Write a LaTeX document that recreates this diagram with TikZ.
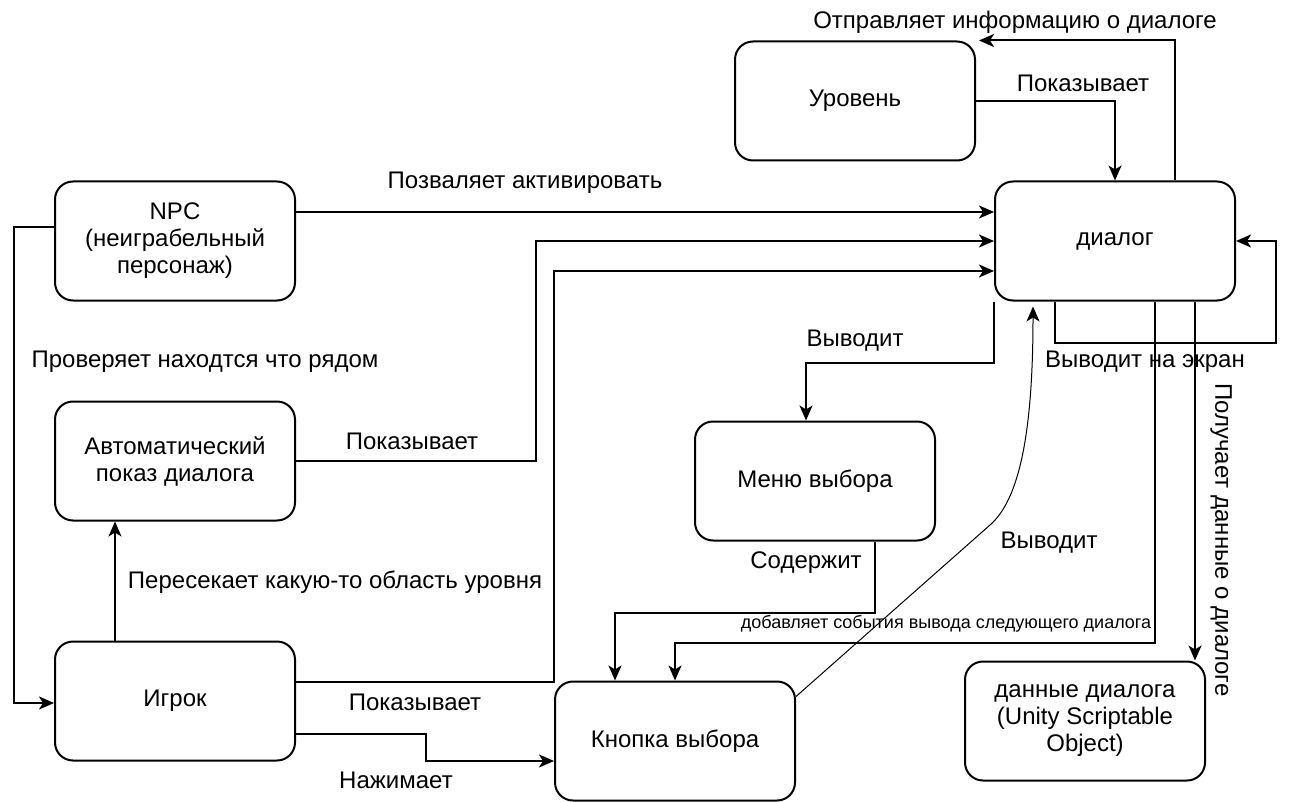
\documentclass[tikz,border=0pt]{standalone}
\usepackage{fontspec}
\setmainfont{Liberation Sans}
\usetikzlibrary{arrows.meta,calc}
\newcommand\diafont{\fontsize{24}{27}\selectfont}
\newcommand\diasmall{\fontsize{18}{21}\selectfont}
\begin{document}
\begin{tikzpicture}[x=1pt,y=-1pt,
  box/.style={draw,line width=2pt,rounded corners=18pt,minimum width=240pt,minimum height=119pt,align=center,font=\diafont,inner sep=0pt},
  arr/.style={line width=2pt,-{Stealth[length=15pt,width=13pt,inset=4pt]}},
  lbl/.style={font=\diafont,inner sep=0pt},
  slbl/.style={font=\diasmall,inner sep=0pt},
]
\fill[white] (0,0) rectangle (1292,802);
\path[use as bounding box] (0,0) rectangle (1292,802);

% nodes
\node[box] (lvl) at (855,101) {Уровень};
\node[box] (dlg) at (1115,241) {диалог};
\node[box] (npc) at (175,241) {NPC\\(неиграбельный\\персонаж)};
\node[box] (auto) at (175,461) {Автоматический\\показ диалога};
\node[box] (player) at (175,701) {Игрок};
\node[box] (menu) at (815,481) {Меню выбора};
\node[box] (btn) at (675,741) {Кнопка выбора};
\node[box] (data) at (1085,721) {данные диалога\\(Unity Scriptable\\Object)};

% connectors
\draw[arr] ([xshift=60pt]dlg.north) |- ([xshift=3pt]lvl.north east);
\draw[arr] (lvl.east) -| (dlg.north);
\draw[arr] ([yshift=29pt]npc.east) -- ([yshift=29pt]dlg.west);
\draw[arr] (auto.east) -- ++(240,0) |- (dlg.west);
\draw[arr] ([yshift=19pt]player.east) -- ([yshift=19pt]player.east -| btn.west) |- ([yshift=-30pt]dlg.west);
\draw[arr] ([yshift=-33pt]player.east) -- ++(130,0) |- ([yshift=-20pt]btn.west);
\draw[arr] ([yshift=14pt]npc.west) -- ++(-40,0) |- ([yshift=-2pt]player.west);
\draw[arr] ([xshift=-60pt]player.north) -- ([xshift=-60pt]auto.south);
\draw[arr] (dlg.south west) -- ++(0,61) -| ([xshift=-9pt]menu.north);
\draw[arr] ([xshift=60pt]menu.south) -- ++(0,71) -| ([xshift=-60pt]btn.north);
\draw[arr] ([xshift=40pt]dlg.south) -- ++(0,341) -| (btn.north);
\draw[arr] ([xshift=-60pt]dlg.south) -- ++(0,41) -| ([xshift=40pt]dlg.east) -- (dlg.east);
\draw[arr] ([xshift=80pt]dlg.south) -- ([xshift=110pt]data.north);
\draw[line width=1pt,-{Stealth[length=15pt,width=13pt,inset=4pt]}]
  ([yshift=-16pt]btn.north east) -- (990,525) .. controls (1020,499) and (1033,430) .. ([xshift=-82pt,yshift=-5pt]dlg.south);

% labels
\node[lbl] (t1) at (1015,22) {Отправляет информацию о диалоге};
\node[lbl] (t2) at (1083,83) {Показывает};
\node[lbl] (t3) at (525,183) {Позваляет активировать};
\node[lbl] (t4) at (412,441) {Показывает};
\node[lbl] (t5) at (205,362) {Проверяет находтся что рядом};
\node[lbl] (t6) at (335,582) {Пересекает какую-то область уровня};
\node[lbl] (t7) at (415,702) {Показывает};
\node[lbl] (t8) at (396,780) {Нажимает};
\node[lbl] (t9) at (855,341) {Выводит};
\node[lbl] (t10) at (1145,362) {Выводит на экран};
\node[lbl] (t11) at (806,563) {Содержит};
\node[slbl] (t12) at (946,624) {добавляет события вывода следующего диалога};
\node[lbl] (t13) at (1049,543) {Выводит};
\node[lbl,rotate=-90] (t14) at (1221,540) {Получает данные о диалоге};
\end{tikzpicture}
\end{document}
